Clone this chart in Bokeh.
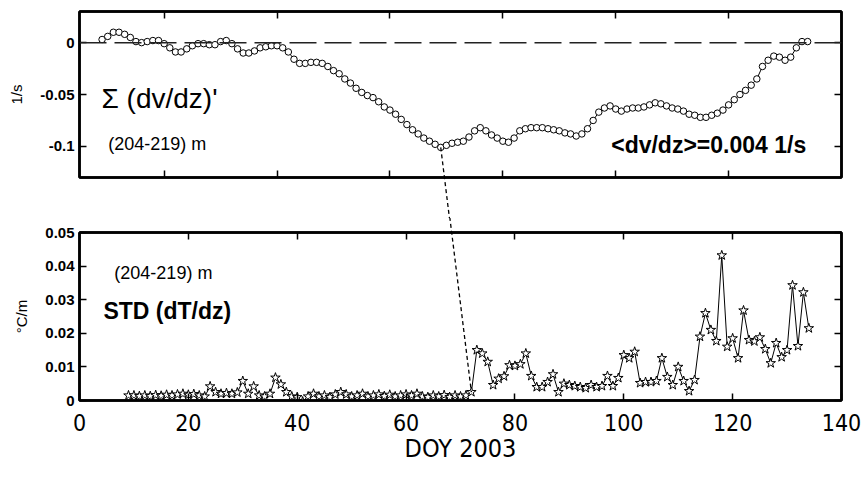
from bokeh.plotting import figure
from bokeh.layouts import column
from bokeh.models import Range1d, LinearAxis, FixedTicker, Span, Label
from bokeh.embed import file_html
from bokeh.resources import INLINE

# ---------------- data ----------------
days = list(range(9, 135))

# cumulative shear anomaly, 1/s
shear_sum = [
    0.003, 0.006, 0.010, 0.010, 0.008, 0.005, 0.001, 0.000, 0.001, 0.002,    # 9-18
    0.002, -0.001, -0.005, -0.009, -0.009, -0.006, -0.003, -0.001, -0.001, -0.002,  # 19-28
    -0.002, 0.001, 0.002, -0.001, -0.006, -0.010, -0.010, -0.008, -0.005, -0.004,  # 29-38
    -0.003, -0.003, -0.005, -0.009, -0.016, -0.020, -0.020, -0.019, -0.019, -0.020,  # 39-48
    -0.023, -0.027, -0.030, -0.035, -0.039, -0.044, -0.048, -0.051, -0.053, -0.057,  # 49-58
    -0.062, -0.065, -0.069, -0.074, -0.079, -0.084, -0.088, -0.092, -0.095, -0.098,  # 59-68
    -0.101, -0.099, -0.097, -0.096, -0.095, -0.091, -0.085, -0.082, -0.085, -0.089,  # 69-78
    -0.092, -0.095, -0.096, -0.092, -0.085, -0.083, -0.082, -0.082, -0.082, -0.083,  # 79-88
    -0.084, -0.085, -0.087, -0.088, -0.090, -0.088, -0.083, -0.075, -0.067, -0.063,  # 89-98
    -0.061, -0.064, -0.066, -0.064, -0.063, -0.063, -0.062, -0.060, -0.058, -0.059,  # 99-108
    -0.061, -0.063, -0.064, -0.066, -0.069, -0.070, -0.072, -0.072, -0.070, -0.068,  # 109-118
    -0.065, -0.060, -0.055, -0.050, -0.046, -0.041, -0.035, -0.023, -0.017, -0.013,  # 119-128
    -0.014, -0.017, -0.014, -0.005, 0.001, 0.001,                                  # 129-134
]

# standard deviation of temperature gradient, degC/m
dtdz_std = [
    0.0015, 0.0015, 0.0013, 0.0015, 0.0013, 0.0016, 0.0014, 0.0017, 0.0015, 0.0018,  # 9-18
    0.0020, 0.0017, 0.0019, 0.0015, 0.0012, 0.0042, 0.0025, 0.0020, 0.0022, 0.0020,  # 19-28
    0.0024, 0.0058, 0.0020, 0.0042, 0.0015, 0.0012, 0.0020, 0.0068, 0.0048, 0.0025,  # 29-38
    0.0012, 0.0010, -0.0003, 0.0012, 0.0020, 0.0012, 0.0015, 0.0010, 0.0018, 0.0025,  # 39-48
    0.0018, 0.0012, 0.0015, 0.0020, 0.0012, 0.0015, 0.0018, 0.0013, 0.0017, 0.0012,  # 49-58
    0.0015, 0.0018, 0.0015, 0.0020, 0.0012, 0.0010, 0.0015, 0.0012, 0.0016, 0.0010,  # 59-68
    0.0015, 0.0012, 0.0015, 0.0025, 0.0150, 0.0140, 0.0115, 0.0046, 0.0065, 0.0072,  # 69-78
    0.0105, 0.0103, 0.0108, 0.0140, 0.0073, 0.0040, 0.0040, 0.0055, 0.0078, 0.0025,  # 79-88
    0.0050, 0.0046, 0.0043, 0.0040, 0.0037, 0.0046, 0.0040, 0.0043, 0.0073, 0.0043,  # 89-98
    0.0067, 0.0135, 0.0126, 0.0145, 0.0052, 0.0055, 0.0055, 0.0058, 0.0126, 0.0070,  # 99-108
    0.0046, 0.0100, 0.0058, 0.0028, 0.0061, 0.0190, 0.0260, 0.0210, 0.0177, 0.0432,  # 109-118
    0.0160, 0.0185, 0.0126, 0.0268, 0.0180, 0.0176, 0.0188, 0.0153, 0.0111, 0.0171,  # 119-128
    0.0129, 0.0150, 0.0343, 0.0162, 0.0322, 0.0215,                                  # 129-134
]

x_ticks = [0, 20, 40, 60, 80, 100, 120, 140]
x_tick_labels = ["0", "20", "40", "60", "80", "100", "120", "140"]
top_y_ticks = [-0.1, -0.05, 0]
top_y_labels = ["-0.1", "-0.05", "0"]
bot_y_ticks = [0, 0.01, 0.02, 0.03, 0.04, 0.05]
bot_y_labels = ["0", "0.01", "0.02", "0.03", "0.04", "0.05"]

# ---------------- layout constants ----------------
W = 863
TOP_H, BOT_H = 218, 259
TOP_X, TOP_Y = (5, 140), (-0.13, 0.03)
BOT_X, BOT_Y = (0, 140), (0, 0.05)
# frame boxes in page pixels: left, right, top, bottom
TOP_BOX = (78, 843, 11, 177)
BOT_BOX = (79, 841, 232, 400)

FONT = "Liberation Sans"
NARROW = "Liberation Sans Narrow, Noto Sans Condensed, DejaVu Sans Condensed, sans-serif"


def to_page(box, xr, yr, x, y):
    l, r, t, b = box
    px = l + (x - xr[0]) / (xr[1] - xr[0]) * (r - l)
    py = b - (y - yr[0]) / (yr[1] - yr[0]) * (b - t)
    return px, py


def from_page(box, xr, yr, px, py):
    l, r, t, b = box
    x = xr[0] + (px - l) / (r - l) * (xr[1] - xr[0])
    y = yr[0] + (b - py) / (b - t) * (yr[1] - yr[0])
    return x, y


def style_axis(ax, ticks):
    ax.ticker = FixedTicker(ticks=ticks, minor_ticks=[])
    ax.major_tick_in = 7
    ax.major_tick_out = 0
    ax.minor_tick_in = 0
    ax.minor_tick_out = 0
    ax.major_tick_line_width = 1.5
    ax.major_tick_line_color = "black"
    ax.axis_line_width = 2.5
    ax.axis_line_color = "black"
    # unlabelled by default; labelled axes override this below
    ax.major_label_text_color = None
    ax.major_label_text_font_size = "1px"
    ax.major_label_standoff = 0


def make_panel(height, offset, box, xr, yr, yticks, ylabels, ylabel, x_labels):
    l, r, t, b = box
    p = figure(width=W, height=height, x_range=Range1d(*xr), y_range=Range1d(*yr),
               output_backend="svg", toolbar_location=None,
               x_axis_type=None, y_axis_type=None,
               min_border_left=l, min_border_right=W - r,
               min_border_top=t - offset, min_border_bottom=height - (b - offset),
               background_fill_color="white", border_fill_color="white",
               outline_line_color="black", outline_line_width=2.5)
    below, above, left, right = LinearAxis(), LinearAxis(), LinearAxis(), LinearAxis()
    inner_x = [v for v in x_ticks if xr[0] < v < xr[1]]
    style_axis(below, x_ticks if x_labels else inner_x)
    style_axis(above, inner_x)
    style_axis(left, yticks)
    style_axis(right, yticks)

    left.major_label_overrides = dict(zip(yticks, ylabels))
    left.major_label_text_font = FONT
    left.major_label_text_font_style = "bold"
    left.major_label_text_font_size = "15px"
    left.major_label_text_color = "black"
    left.major_label_standoff = 5
    left.axis_label = ylabel
    left.axis_label_text_font = FONT
    left.axis_label_text_font_style = "normal"
    left.axis_label_text_font_size = "15px"
    left.axis_label_text_color = "black"
    left.axis_label_standoff = 12
    if x_labels:
        below.major_label_overrides = dict(zip(x_ticks, x_tick_labels))
        below.major_label_text_font = NARROW
        below.major_label_text_font_size = "23px"
        below.major_label_text_color = "black"
        below.major_label_standoff = 13
        below.axis_label = "DOY 2003"
        below.axis_label_text_font = NARROW
        below.axis_label_text_font_style = "normal"
        below.axis_label_text_font_size = "25px"
        below.axis_label_text_color = "black"
        below.axis_label_standoff = 0
    p.add_layout(below, "below")
    p.add_layout(above, "above")
    p.add_layout(left, "left")
    p.add_layout(right, "right")
    return p


# ---------------- upper panel: cumulative shear ----------------
top = make_panel(TOP_H, 0, TOP_BOX, TOP_X, TOP_Y, top_y_ticks, top_y_labels, "1/s", False)
top.add_layout(Span(location=0, dimension="width", line_color="#222222",
                    line_width=1.5, line_dash="27 8"))
top.line(days, shear_sum, line_color="black", line_width=1)
top.scatter(days, shear_sum, marker="circle", size=6.5, fill_color="white",
            line_color="black", line_width=1)

top.add_layout(Label(x=8.9, y=-0.054, text="\u03a3 (dv/dz)'", text_font=FONT,
                     text_font_size="28px", text_baseline="middle", text_color="black"))
top.add_layout(Label(x=10.1, y=-0.098, text="(204-219) m", text_font=FONT,
                     text_font_size="18px", text_baseline="middle", text_color="black"))
top.add_layout(Label(x=99.2, y=-0.099, text="<dv/dz>=0.004 1/s", text_font=FONT,
                     text_font_style="bold", text_font_size="23px",
                     text_baseline="middle", text_color="black"))

# ---------------- lower panel: STD of dT/dz ----------------
bot = make_panel(BOT_H, TOP_H, BOT_BOX, BOT_X, BOT_Y, bot_y_ticks, bot_y_labels,
                 "\u00b0C/m", True)
bot.line(days, dtdz_std, line_color="black", line_width=1)
bot.scatter(days, dtdz_std, marker="star", size=10, fill_color="white",
            line_color="black", line_width=1)

bot.add_layout(Label(x=6.4, y=0.0378, text="(204-219) m", text_font=FONT,
                     text_font_size="18px", text_baseline="middle", text_color="black"))
bot.add_layout(Label(x=4.4, y=0.0265, text="STD (dT/dz)", text_font=FONT,
                     text_font_style="bold", text_font_size="23px",
                     text_baseline="middle", text_color="black"))

# ---------------- dotted link: shear minimum -> onset of strong dT/dz variability ----------------
i_min = min(range(len(shear_sum)), key=lambda i: shear_sum[i])
jumps = [dtdz_std[i + 1] - dtdz_std[i] for i in range(len(dtdz_std) - 1)]
i_jump = max(range(len(jumps)), key=lambda i: jumps[i] if days[i] < 100 else -1)

p_top = to_page(TOP_BOX, TOP_X, TOP_Y, days[i_min], shear_sum[i_min])
p_bot = to_page(BOT_BOX, BOT_X, BOT_Y, days[i_jump], dtdz_std[i_jump])

bx_in_top = from_page(TOP_BOX, TOP_X, TOP_Y, *p_bot)
tx_in_bot = from_page(BOT_BOX, BOT_X, BOT_Y, *p_top)

top.line([days[i_min], bx_in_top[0]], [shear_sum[i_min], bx_in_top[1]],
         line_color="black", line_width=1.3, line_dash="4 3", level="overlay")
bot.line([tx_in_bot[0], days[i_jump]], [tx_in_bot[1], dtdz_std[i_jump]],
         line_color="black", line_width=1.3, line_dash="4 3", level="overlay")

layout = column(top, bot, spacing=0)
open("out.html", "w").write(file_html(layout, INLINE))
